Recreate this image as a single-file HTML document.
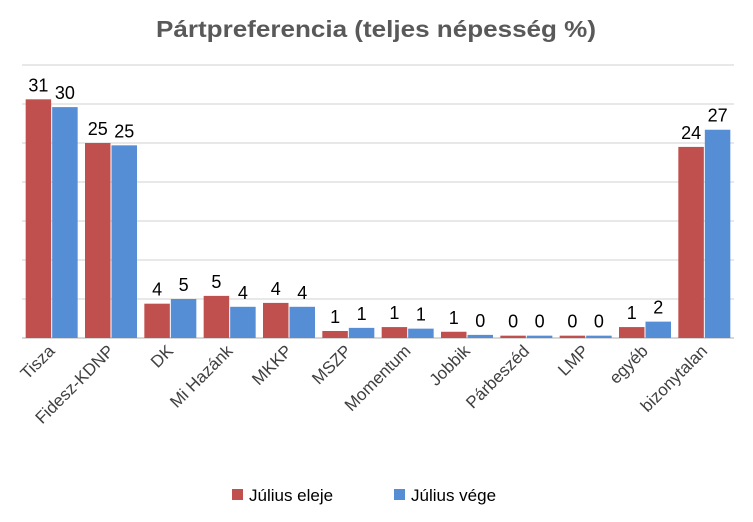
<!DOCTYPE html>
<html><head><meta charset="utf-8"><style>
html,body{margin:0;padding:0;background:#fff;width:753px;height:522px;overflow:hidden}
text{font-family:"Liberation Sans",sans-serif}
</style></head><body>
<svg id="chart" width="753" height="522" xmlns="http://www.w3.org/2000/svg">
<text x="376" y="37" text-anchor="middle" font-size="23" font-weight="bold" fill="#595959" textLength="440" lengthAdjust="spacingAndGlyphs">Pártpreferencia (teljes népesség %)</text>
<g id="grid"></g><g id="bars"></g><g id="labels"></g><g id="xlabels"></g>
<g>
<rect x="232" y="489" width="11" height="11" fill="#C0504D"/>
<text x="249" y="501" font-size="17" fill="#000">Július eleje</text>
<rect x="394" y="489" width="11" height="11" fill="#558ED5"/>
<text x="411" y="501" font-size="17" fill="#000">Július vége</text>
</g>
</svg>
<script>
const categories=["Tisza","Fidesz-KDNP","DK","Mi Hazánk","MKKP","MSZP","Momentum","Jobbik","Párbeszéd","LMP","egyéb","bizonytalan"];
const seriesEleje=[30.6,25,4.4,5.4,4.5,0.9,1.4,0.8,0.3,0.3,1.4,24.5];
const seriesVege=[29.6,24.7,5,4,4,1.3,1.2,0.4,0.3,0.3,2.1,26.7];
const labelsEleje=["31","25","4","5","4","1","1","1","0","0","1","24"];
const labelsVege=["30","25","5","4","4","1","1","0","0","0","2","27"];
const yTicks=[0,5,10,15,20,25,30,35];
const NS="http://www.w3.org/2000/svg";
const x0=22,x1=734,base=338,yTop=65,yMax=35;
const slot=(x1-x0)/categories.length;
const y=v=>base-(v/yMax)*(base-yTop);
const xc=i=>x0+slot*(i+0.5);
function mk(tag,attrs,parent){const e=document.createElementNS(NS,tag);for(const k in attrs)e.setAttribute(k,attrs[k]);document.getElementById(parent).appendChild(e);return e;}
yTicks.forEach(t=>{
 const l=mk("line",{x1:x0,x2:x1,y1:y(t),y2:y(t),stroke:t===0?"#bfbfbf":"#d9d9d9","stroke-width":1.3},"grid");
 
 
});
categories.forEach((c,i)=>{
 const cx=xc(i);
 [[seriesEleje,labelsEleje,"#C0504D",-26,"eleje"],[seriesVege,labelsVege,"#558ED5",0.5,"vege"]].forEach(([s,lb,col,off,nm])=>{
  const bx=cx+off,bw=25.5;
  const r=mk("rect",{x:bx,y:y(s[i]),width:bw,height:base-y(s[i]),fill:col},"bars");
  
  
  const t=mk("text",{x:bx+bw/2,y:y(s[i])-8,"text-anchor":"middle","font-size":18,fill:"#000"},"labels");
  t.textContent=lb[i];
  
  
 });
 const xl=mk("text",{x:cx+4,y:352,"text-anchor":"end","font-size":17,fill:"#404040",transform:`rotate(-45 ${cx+4} 352)`},"xlabels");
 xl.textContent=c;
 
 
});
</script>
</body></html>
